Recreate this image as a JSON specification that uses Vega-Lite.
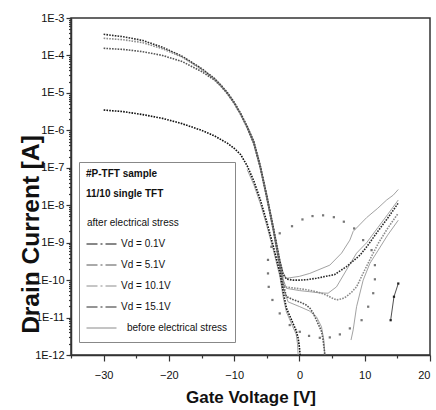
{
  "$schema": "https://vega.github.io/schema/vega-lite/v6.json",
  "width": 359,
  "height": 337,
  "autosize": {"type": "none"},
  "padding": {"left": 71, "top": 18, "right": 6, "bottom": 55},
  "background": "white",
  "config": {
    "font": "Liberation Sans",
    "view": {"stroke": "#333", "strokeWidth": 1.5},
    "axis": {"grid": false, "domainColor": "#333", "domainWidth": 1.5, "tickColor": "#333", "tickWidth": 1.2, "labelColor": "#111", "titleColor": "#111", "labelFont": "Liberation Sans", "titleFont": "Liberation Sans"}
  },
  "datasets": {
    "after": [
      {"series": "Vd = 15.1V", "vg": -30, "id": 3.67e-4},
      {"series": "Vd = 15.1V", "vg": -27, "id": 3.16e-4},
      {"series": "Vd = 15.1V", "vg": -24, "id": 2.51e-4},
      {"series": "Vd = 15.1V", "vg": -21, "id": 1.66e-4},
      {"series": "Vd = 15.1V", "vg": -18, "id": 9.55e-5},
      {"series": "Vd = 15.1V", "vg": -15, "id": 4.47e-5},
      {"series": "Vd = 15.1V", "vg": -13, "id": 2.40e-5},
      {"series": "Vd = 15.1V", "vg": -12, "id": 1.58e-5},
      {"series": "Vd = 15.1V", "vg": -11, "id": 1.0e-5},
      {"series": "Vd = 15.1V", "vg": -10, "id": 5.62e-6},
      {"series": "Vd = 15.1V", "vg": -9, "id": 2.82e-6},
      {"series": "Vd = 15.1V", "vg": -8, "id": 1.26e-6},
      {"series": "Vd = 15.1V", "vg": -7, "id": 5.01e-7},
      {"series": "Vd = 15.1V", "vg": -6, "id": 1.12e-7},
      {"series": "Vd = 15.1V", "vg": -5, "id": 1.78e-8},
      {"series": "Vd = 15.1V", "vg": -4, "id": 2.51e-9},
      {"series": "Vd = 15.1V", "vg": -3.5, "id": 8.91e-10},
      {"series": "Vd = 15.1V", "vg": -3, "id": 3.16e-10},
      {"series": "Vd = 15.1V", "vg": -2.5, "id": 1.41e-10},
      {"series": "Vd = 15.1V", "vg": -2, "id": 1.07e-10},
      {"series": "Vd = 15.1V", "vg": -1, "id": 1.0e-10},
      {"series": "Vd = 15.1V", "vg": 0, "id": 1.0e-10},
      {"series": "Vd = 15.1V", "vg": 1, "id": 1.02e-10},
      {"series": "Vd = 15.1V", "vg": 2.6, "id": 1.12e-10},
      {"series": "Vd = 15.1V", "vg": 4, "id": 1.26e-10},
      {"series": "Vd = 15.1V", "vg": 5.4, "id": 1.41e-10},
      {"series": "Vd = 15.1V", "vg": 7.2, "id": 2.29e-10},
      {"series": "Vd = 15.1V", "vg": 9.3, "id": 4.68e-10},
      {"series": "Vd = 15.1V", "vg": 10.3, "id": 7.76e-10},
      {"series": "Vd = 15.1V", "vg": 12, "id": 2.0e-9},
      {"series": "Vd = 15.1V", "vg": 13.5, "id": 4.47e-9},
      {"series": "Vd = 15.1V", "vg": 15.1, "id": 1.12e-8},

      {"series": "Vd = 10.1V", "vg": -30, "id": 2.87e-4},
      {"series": "Vd = 10.1V", "vg": -27, "id": 2.63e-4},
      {"series": "Vd = 10.1V", "vg": -24, "id": 2.19e-4},
      {"series": "Vd = 10.1V", "vg": -21, "id": 1.51e-4},
      {"series": "Vd = 10.1V", "vg": -18, "id": 9.12e-5},
      {"series": "Vd = 10.1V", "vg": -15, "id": 4.27e-5},
      {"series": "Vd = 10.1V", "vg": -13, "id": 2.34e-5},
      {"series": "Vd = 10.1V", "vg": -12, "id": 1.55e-5},
      {"series": "Vd = 10.1V", "vg": -11, "id": 9.55e-6},
      {"series": "Vd = 10.1V", "vg": -10, "id": 5.37e-6},
      {"series": "Vd = 10.1V", "vg": -9, "id": 2.69e-6},
      {"series": "Vd = 10.1V", "vg": -8, "id": 1.20e-6},
      {"series": "Vd = 10.1V", "vg": -7, "id": 4.68e-7},
      {"series": "Vd = 10.1V", "vg": -6, "id": 1.05e-7},
      {"series": "Vd = 10.1V", "vg": -5, "id": 1.66e-8},
      {"series": "Vd = 10.1V", "vg": -4, "id": 2.34e-9},
      {"series": "Vd = 10.1V", "vg": -3.5, "id": 7.94e-10},
      {"series": "Vd = 10.1V", "vg": -3, "id": 2.82e-10},
      {"series": "Vd = 10.1V", "vg": -2.5, "id": 1.0e-10},
      {"series": "Vd = 10.1V", "vg": -2.26, "id": 6.61e-11},
      {"series": "Vd = 10.1V", "vg": 0, "id": 5.89e-11},
      {"series": "Vd = 10.1V", "vg": 1.58, "id": 5.37e-11},
      {"series": "Vd = 10.1V", "vg": 3, "id": 4.68e-11},
      {"series": "Vd = 10.1V", "vg": 4.14, "id": 3.98e-11},
      {"series": "Vd = 10.1V", "vg": 5, "id": 3.31e-11},
      {"series": "Vd = 10.1V", "vg": 5.68, "id": 2.95e-11},
      {"series": "Vd = 10.1V", "vg": 6.5, "id": 3.16e-11},
      {"series": "Vd = 10.1V", "vg": 7.2, "id": 3.63e-11},
      {"series": "Vd = 10.1V", "vg": 8, "id": 4.79e-11},
      {"series": "Vd = 10.1V", "vg": 8.75, "id": 6.61e-11},
      {"series": "Vd = 10.1V", "vg": 10, "id": 1.86e-10},
      {"series": "Vd = 10.1V", "vg": 11, "id": 4.17e-10},
      {"series": "Vd = 10.1V", "vg": 12.07, "id": 9.55e-10},
      {"series": "Vd = 10.1V", "vg": 13.5, "id": 2.40e-9},
      {"series": "Vd = 10.1V", "vg": 15.1, "id": 6.03e-9},

      {"series": "Vd = 5.1V", "vg": -30, "id": 1.55e-4},
      {"series": "Vd = 5.1V", "vg": -27, "id": 1.45e-4},
      {"series": "Vd = 5.1V", "vg": -24, "id": 1.26e-4},
      {"series": "Vd = 5.1V", "vg": -21, "id": 1.0e-4},
      {"series": "Vd = 5.1V", "vg": -18, "id": 6.92e-5},
      {"series": "Vd = 5.1V", "vg": -15, "id": 3.72e-5},
      {"series": "Vd = 5.1V", "vg": -13, "id": 2.19e-5},
      {"series": "Vd = 5.1V", "vg": -12, "id": 1.48e-5},
      {"series": "Vd = 5.1V", "vg": -11, "id": 9.33e-6},
      {"series": "Vd = 5.1V", "vg": -10, "id": 5.25e-6},
      {"series": "Vd = 5.1V", "vg": -9, "id": 2.63e-6},
      {"series": "Vd = 5.1V", "vg": -8, "id": 1.17e-6},
      {"series": "Vd = 5.1V", "vg": -7, "id": 4.47e-7},
      {"series": "Vd = 5.1V", "vg": -6, "id": 1.0e-7},
      {"series": "Vd = 5.1V", "vg": -5, "id": 1.58e-8},
      {"series": "Vd = 5.1V", "vg": -4, "id": 2.19e-9},
      {"series": "Vd = 5.1V", "vg": -3.5, "id": 7.08e-10},
      {"series": "Vd = 5.1V", "vg": -3, "id": 2.40e-10},
      {"series": "Vd = 5.1V", "vg": -2.5, "id": 7.94e-11},
      {"series": "Vd = 5.1V", "vg": -2, "id": 3.63e-11},
      {"series": "Vd = 5.1V", "vg": -1, "id": 3.02e-11},
      {"series": "Vd = 5.1V", "vg": 0, "id": 2.63e-11},
      {"series": "Vd = 5.1V", "vg": 1, "id": 2.19e-11},
      {"series": "Vd = 5.1V", "vg": 1.6, "id": 1.78e-11},
      {"series": "Vd = 5.1V", "vg": 2.1, "id": 1.32e-11},
      {"series": "Vd = 5.1V", "vg": 2.6, "id": 8.51e-12},
      {"series": "Vd = 5.1V", "vg": 3.0, "id": 6.03e-12},
      {"series": "Vd = 5.1V", "vg": 3.4, "id": 4.17e-12},
      {"series": "Vd = 5.1V", "vg": 3.62, "id": 2.51e-12},
      {"series": "Vd = 5.1V", "vg": 3.8, "id": 1.41e-12},
      {"series": "Vd = 5.1V", "vg": 3.88, "id": 1.0e-12},

      {"series": "Vd = 0.1V", "vg": -30, "id": 3.49e-6},
      {"series": "Vd = 0.1V", "vg": -27, "id": 3.16e-6},
      {"series": "Vd = 0.1V", "vg": -24, "id": 2.63e-6},
      {"series": "Vd = 0.1V", "vg": -21, "id": 2.09e-6},
      {"series": "Vd = 0.1V", "vg": -18, "id": 1.51e-6},
      {"series": "Vd = 0.1V", "vg": -15, "id": 1.0e-6},
      {"series": "Vd = 0.1V", "vg": -13, "id": 7.08e-7},
      {"series": "Vd = 0.1V", "vg": -11, "id": 4.47e-7},
      {"series": "Vd = 0.1V", "vg": -10, "id": 3.31e-7},
      {"series": "Vd = 0.1V", "vg": -9, "id": 2.24e-7},
      {"series": "Vd = 0.1V", "vg": -8, "id": 1.12e-7},
      {"series": "Vd = 0.1V", "vg": -7, "id": 4.47e-8},
      {"series": "Vd = 0.1V", "vg": -6, "id": 1.41e-8},
      {"series": "Vd = 0.1V", "vg": -5, "id": 3.55e-9},
      {"series": "Vd = 0.1V", "vg": -4, "id": 7.94e-10},
      {"series": "Vd = 0.1V", "vg": -3, "id": 1.58e-10},
      {"series": "Vd = 0.1V", "vg": -2.5, "id": 5.01e-11},
      {"series": "Vd = 0.1V", "vg": -2, "id": 1.78e-11},
      {"series": "Vd = 0.1V", "vg": -1.5, "id": 1.12e-11},
      {"series": "Vd = 0.1V", "vg": -1, "id": 7.08e-12},
      {"series": "Vd = 0.1V", "vg": -0.5, "id": 4.47e-12},
      {"series": "Vd = 0.1V", "vg": -0.2, "id": 2.82e-12},
      {"series": "Vd = 0.1V", "vg": 0, "id": 1.58e-12},
      {"series": "Vd = 0.1V", "vg": 0.1, "id": 1.0e-12}
    ],
    "before": [
      {"series": "before electrical stress", "curve": "b1", "vg": -8, "id": 1.32e-6},
      {"series": "before electrical stress", "curve": "b1", "vg": -7, "id": 5.25e-7},
      {"series": "before electrical stress", "curve": "b1", "vg": -6, "id": 1.20e-7},
      {"series": "before electrical stress", "curve": "b1", "vg": -5, "id": 1.91e-8},
      {"series": "before electrical stress", "curve": "b1", "vg": -4, "id": 2.69e-9},
      {"series": "before electrical stress", "curve": "b1", "vg": -3, "id": 3.55e-10},
      {"series": "before electrical stress", "curve": "b1", "vg": -2.5, "id": 1.58e-10},
      {"series": "before electrical stress", "curve": "b1", "vg": -2, "id": 1.12e-10},
      {"series": "before electrical stress", "curve": "b1", "vg": 0, "id": 1.26e-10},
      {"series": "before electrical stress", "curve": "b1", "vg": 1.58, "id": 1.51e-10},
      {"series": "before electrical stress", "curve": "b1", "vg": 3, "id": 1.91e-10},
      {"series": "before electrical stress", "curve": "b1", "vg": 4.65, "id": 2.51e-10},
      {"series": "before electrical stress", "curve": "b1", "vg": 6.45, "id": 5.25e-10},
      {"series": "before electrical stress", "curve": "b1", "vg": 7.72, "id": 1.17e-9},
      {"series": "before electrical stress", "curve": "b1", "vg": 8.23, "id": 2.0e-9},
      {"series": "before electrical stress", "curve": "b1", "vg": 10.3, "id": 4.68e-9},
      {"series": "before electrical stress", "curve": "b1", "vg": 12, "id": 8.32e-9},
      {"series": "before electrical stress", "curve": "b1", "vg": 13.36, "id": 1.38e-8},
      {"series": "before electrical stress", "curve": "b1", "vg": 14.37, "id": 1.86e-8},
      {"series": "before electrical stress", "curve": "b1", "vg": 15.14, "id": 2.63e-8},

      {"series": "before electrical stress", "curve": "b2", "vg": -8, "id": 1.20e-6},
      {"series": "before electrical stress", "curve": "b2", "vg": -7, "id": 4.79e-7},
      {"series": "before electrical stress", "curve": "b2", "vg": -6, "id": 1.10e-7},
      {"series": "before electrical stress", "curve": "b2", "vg": -5, "id": 1.70e-8},
      {"series": "before electrical stress", "curve": "b2", "vg": -4, "id": 2.40e-9},
      {"series": "before electrical stress", "curve": "b2", "vg": -3, "id": 2.82e-10},
      {"series": "before electrical stress", "curve": "b2", "vg": -2.5, "id": 1.05e-10},
      {"series": "before electrical stress", "curve": "b2", "vg": -2, "id": 6.03e-11},
      {"series": "before electrical stress", "curve": "b2", "vg": 0, "id": 5.25e-11},
      {"series": "before electrical stress", "curve": "b2", "vg": 1.58, "id": 4.90e-11},
      {"series": "before electrical stress", "curve": "b2", "vg": 3, "id": 4.57e-11},
      {"series": "before electrical stress", "curve": "b2", "vg": 4.39, "id": 4.47e-11},
      {"series": "before electrical stress", "curve": "b2", "vg": 5.68, "id": 6.61e-11},
      {"series": "before electrical stress", "curve": "b2", "vg": 7.2, "id": 1.86e-10},
      {"series": "before electrical stress", "curve": "b2", "vg": 8.75, "id": 5.25e-10},
      {"series": "before electrical stress", "curve": "b2", "vg": 10.3, "id": 1.0e-9},
      {"series": "before electrical stress", "curve": "b2", "vg": 12, "id": 2.51e-9},
      {"series": "before electrical stress", "curve": "b2", "vg": 13.5, "id": 5.62e-9},
      {"series": "before electrical stress", "curve": "b2", "vg": 15.14, "id": 1.38e-8},

      {"series": "before electrical stress", "curve": "b3", "vg": 7.9, "id": 2.51e-12},
      {"series": "before electrical stress", "curve": "b3", "vg": 8.23, "id": 4.68e-12},
      {"series": "before electrical stress", "curve": "b3", "vg": 8.75, "id": 1.95e-11},
      {"series": "before electrical stress", "curve": "b3", "vg": 9.76, "id": 1.0e-10},
      {"series": "before electrical stress", "curve": "b3", "vg": 10.8, "id": 2.82e-10},
      {"series": "before electrical stress", "curve": "b3", "vg": 12.07, "id": 6.31e-10},
      {"series": "before electrical stress", "curve": "b3", "vg": 13.5, "id": 1.58e-9},
      {"series": "before electrical stress", "curve": "b3", "vg": 15.14, "id": 3.98e-9},

      {"series": "before electrical stress", "curve": "b4", "vg": -8, "id": 1.12e-6},
      {"series": "before electrical stress", "curve": "b4", "vg": -7, "id": 4.27e-7},
      {"series": "before electrical stress", "curve": "b4", "vg": -6, "id": 9.55e-8},
      {"series": "before electrical stress", "curve": "b4", "vg": -5, "id": 1.48e-8},
      {"series": "before electrical stress", "curve": "b4", "vg": -4, "id": 2.0e-9},
      {"series": "before electrical stress", "curve": "b4", "vg": -3, "id": 2.0e-10},
      {"series": "before electrical stress", "curve": "b4", "vg": -2.5, "id": 6.31e-11},
      {"series": "before electrical stress", "curve": "b4", "vg": -1.75, "id": 2.63e-11},
      {"series": "before electrical stress", "curve": "b4", "vg": 0.05, "id": 1.95e-11},
      {"series": "before electrical stress", "curve": "b4", "vg": 1.5, "id": 1.51e-11},
      {"series": "before electrical stress", "curve": "b4", "vg": 2.6, "id": 1.05e-11},
      {"series": "before electrical stress", "curve": "b4", "vg": 3.38, "id": 5.62e-12},
      {"series": "before electrical stress", "curve": "b4", "vg": 3.73, "id": 2.51e-12},
      {"series": "before electrical stress", "curve": "b4", "vg": 3.9, "id": 1.0e-12},

      {"series": "before electrical stress", "curve": "b5", "vg": -8, "id": 8.91e-8},
      {"series": "before electrical stress", "curve": "b5", "vg": -7, "id": 3.55e-8},
      {"series": "before electrical stress", "curve": "b5", "vg": -6, "id": 1.12e-8},
      {"series": "before electrical stress", "curve": "b5", "vg": -5, "id": 2.82e-9},
      {"series": "before electrical stress", "curve": "b5", "vg": -4, "id": 6.31e-10},
      {"series": "before electrical stress", "curve": "b5", "vg": -3, "id": 1.26e-10},
      {"series": "before electrical stress", "curve": "b5", "vg": -2.5, "id": 3.55e-11},
      {"series": "before electrical stress", "curve": "b5", "vg": -2, "id": 1.41e-11},
      {"series": "before electrical stress", "curve": "b5", "vg": -1, "id": 5.62e-12},
      {"series": "before electrical stress", "curve": "b5", "vg": -0.5, "id": 3.55e-12},
      {"series": "before electrical stress", "curve": "b5", "vg": -0.3, "id": 2.0e-12},
      {"series": "before electrical stress", "curve": "b5", "vg": -0.2, "id": 1.0e-12}
    ],
    "ellipse": [
      {"vg": -4.82, "id": 3.47e-10}, {"vg": -4.30, "id": 7.76e-10}, {"vg": -3.02, "id": 1.78e-9},
      {"vg": -1.14, "id": 2.75e-9}, {"vg": 0.46, "id": 4.17e-9}, {"vg": 2.00, "id": 5.13e-9},
      {"vg": 3.62, "id": 5.37e-9}, {"vg": 5.27, "id": 4.79e-9}, {"vg": 6.80, "id": 3.63e-9},
      {"vg": 8.38, "id": 2.40e-9}, {"vg": 9.76, "id": 1.17e-9}, {"vg": 11.05, "id": 6.31e-10},
      {"vg": 11.56, "id": 2.51e-10}, {"vg": 11.56, "id": 1.05e-10}, {"vg": 11.30, "id": 4.47e-11},
      {"vg": 10.53, "id": 1.95e-11}, {"vg": 9.52, "id": 8.51e-12}, {"vg": 7.72, "id": 5.13e-12},
      {"vg": 6.19, "id": 3.55e-12}, {"vg": 4.65, "id": 2.95e-12}, {"vg": 3.12, "id": 2.88e-12},
      {"vg": 1.47, "id": 3.24e-12}, {"vg": 0.05, "id": 4.17e-12}, {"vg": -1.49, "id": 6.31e-12},
      {"vg": -3.02, "id": 1.29e-11}, {"vg": -4.14, "id": 2.95e-11}, {"vg": -4.71, "id": 6.61e-11},
      {"vg": -4.82, "id": 1.51e-10}
    ],
    "stray": [
      {"vg": 13.97, "id": 8.5e-12}, {"vg": 14.48, "id": 3.6e-11}, {"vg": 15.14, "id": 8.1e-11}
    ]
  },
  "layer": [
    {
      "data": {"name": "before"},
      "mark": {"type": "line", "strokeWidth": 0.8, "clip": true},
      "encoding": {
        "x": {"field": "vg", "type": "quantitative", "scale": {"domain": [-35, 20], "nice": false, "zero": false},
          "axis": {"orient": "bottom", "values": [-30, -20, -10, 0, 10, 20], "tickSize": 6, "labelPadding": 8, "labelFontSize": 11, "title": "Gate Voltage [V]", "titleFontSize": 17, "titleFontWeight": "bold", "titlePadding": 9}},
        "y": {"field": "id", "type": "quantitative", "scale": {"type": "log", "domain": [1e-12, 1e-3], "nice": false},
          "axis": {"orient": "left", "values": [1e-12, 1e-11, 1e-10, 1e-9, 1e-8, 1e-7, 1e-6, 1e-5, 1e-4, 1e-3], "labelExpr": "'1E' + round(log(datum.value)/LN10)", "tickSize": 5, "labelPadding": 2, "labelFontSize": 11, "title": "Drain Current [A]", "titleFontSize": 24.5, "titleFontWeight": "bold", "titleX": -40, "titleY": 216, "titleBaseline": "middle"}},
        "color": {"field": "series", "type": "nominal",
          "scale": {"domain": ["after electrical stress", "Vd = 0.1V", "Vd = 5.1V", "Vd = 10.1V", "Vd = 15.1V", "before electrical stress"], "range": ["#ffffff", "#111111", "#555555", "#8c8c8c", "#2a2a2a", "#8a8a8a"]},
          "legend": {
            "orient": "none", "legendX": 8, "legendY": 144,
            "title": ["#P-TFT sample", "11/10 single TFT"],
            "titleFontSize": 10, "titleFontWeight": "bold", "titleLineHeight": 20, "titlePadding": 17, "titleColor": "#111",
            "labelFontSize": 10, "labelColor": "#111", "labelOffset": 4, "labelLimit": 300,
            "symbolType": "stroke", "symbolSize": 900, "symbolStrokeWidth": 1,
            "clipHeight": 14, "rowPadding": 7,
            "padding": 7, "strokeColor": "#888", "fillColor": "white",
            "encode": {
              "symbols": {"update": {
                "strokeDash": {"signal": "datum.label === 'before electrical stress' ? [] : [11,3,2,3,11]"},
                "opacity": {"signal": "datum.label === 'after electrical stress' ? 0 : 1"}}},
              "labels": {"update": {
                "dx": {"signal": "datum.label === 'after electrical stress' ? -34 : (datum.label === 'before electrical stress' ? 6 : 0)"}}}
            }
          }},
        "detail": {"field": "curve"}
      }
    },
    {
      "data": {"name": "after"},
      "mark": {"type": "line", "strokeWidth": 1.6, "strokeDash": [1.6, 1.2], "clip": true},
      "encoding": {
        "x": {"field": "vg", "type": "quantitative", "axis": null},
        "y": {"field": "id", "type": "quantitative", "axis": null},
        "color": {"field": "series", "type": "nominal"}
      }
    },
    {
      "data": {"name": "ellipse"},
      "mark": {"type": "square", "size": 5, "color": "#777", "opacity": 1, "filled": true},
      "encoding": {
        "x": {"field": "vg", "type": "quantitative", "axis": {"orient": "bottom", "values": [-35, -25, -15, -5, 5, 15], "labels": false, "tickSize": 3, "domain": false, "title": null}},
        "y": {"field": "id", "type": "quantitative", "axis": {"orient": "left", "tickCount": 90, "labels": false, "tickSize": 2.5, "domain": false, "title": null}}
      }
    },
    {
      "data": {"name": "stray"},
      "mark": {"type": "line", "color": "#222", "strokeWidth": 0.8, "point": {"size": 5, "color": "#222", "shape": "square"}},
      "encoding": {
        "x": {"field": "vg", "type": "quantitative", "axis": null},
        "y": {"field": "id", "type": "quantitative", "axis": null}
      }
    }
  ],
  "resolve": {"axis": {"x": "independent", "y": "independent"}}
}
